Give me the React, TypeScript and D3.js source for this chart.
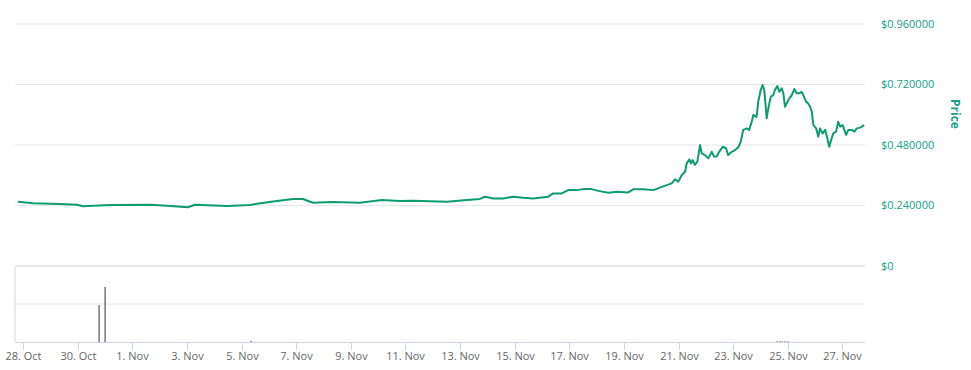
import React from "react";
import * as d3 from "d3";

const width = 971;
const height = 370;
const plot = { left: 15, right: 865 };
const priceBand = { top: 24, bottom: 266 };
const volBand = { top: 266, bottom: 342 };

// days after 28 Oct (UTC midnight) and the price at that moment
const priceDays = [
  -0.19, 0.36, 1.34, 1.97, 2.19, 3.18, 4.64, 5.26, 6.03, 6.29, 7.46, 8.3, 8.56, 9.29, 9.88,
  10.24, 10.61, 11.34, 12.33, 13.14, 13.8, 14.27, 15.52, 16.25,
  16.73, 16.91, 17.22, 17.58, 17.95, 18.32, 18.68, 19.23, 19.41, 19.72, 19.96, 20.27, 20.51,
  20.82, 21.06, 21.43, 21.74, 22.16, 22.34, 22.71, 23.08, 23.32,
  23.57, 23.75, 23.87, 23.99, 24.12, 24.24, 24.3, 24.4, 24.45, 24.52, 24.6, 24.69, 24.79,
  24.85, 24.97, 25.09, 25.22, 25.3, 25.4, 25.49, 25.62, 25.74, 25.82, 25.95, 26.07, 26.19,
  26.28,
  26.37, 26.5, 26.59, 26.68, 26.74, 26.86, 26.92, 27.01, 27.08, 27.14, 27.23, 27.29, 27.38,
  27.47, 27.53, 27.62, 27.69, 27.78, 27.84, 27.9, 27.96, 28.06, 28.15, 28.24, 28.33, 28.42,
  28.51, 28.57, 28.67, 28.75, 28.82, 28.88, 28.94, 29.04, 29.12, 29.18, 29.28, 29.37, 29.45,
  29.52, 29.59, 29.67, 29.77, 29.85, 29.92, 30.01, 30.14, 30.22, 30.35, 30.44, 30.53, 30.65,
  30.8,
];
const prices = [
  0.255, 0.249, 0.246, 0.243, 0.237, 0.242, 0.243, 0.239, 0.233, 0.243, 0.238, 0.242, 0.247,
  0.258, 0.266, 0.266, 0.251, 0.254, 0.251, 0.262, 0.258, 0.259, 0.255, 0.262,
  0.266, 0.275, 0.268, 0.268, 0.275, 0.271, 0.268, 0.275, 0.288, 0.288, 0.301, 0.301, 0.305,
  0.305, 0.298, 0.291, 0.295, 0.292, 0.304, 0.304, 0.301, 0.311,
  0.321, 0.328, 0.344, 0.334, 0.361, 0.374, 0.407, 0.423, 0.407, 0.42, 0.401, 0.414, 0.48,
  0.447, 0.44, 0.427, 0.453, 0.434, 0.434, 0.453, 0.473, 0.467, 0.44, 0.453, 0.46, 0.471,
  0.493,
  0.54, 0.546, 0.54, 0.572, 0.599, 0.592, 0.652, 0.698, 0.718, 0.698, 0.586, 0.626, 0.672,
  0.678, 0.698, 0.714, 0.691, 0.705, 0.685, 0.632, 0.645, 0.665, 0.678, 0.702, 0.685, 0.685,
  0.691, 0.678, 0.652, 0.645, 0.632, 0.612, 0.559, 0.546, 0.513, 0.546, 0.526, 0.54, 0.507,
  0.473, 0.5, 0.526, 0.533, 0.572, 0.553, 0.559, 0.52, 0.54, 0.54, 0.533, 0.546, 0.549,
  0.559,
];

const volumeDays = [2.78, 3.0, 8.34, 27.6, 27.7, 27.8, 27.9, 28.0];
const volumes = [0.97, 1.45, 0.03, 0.02, 0.02, 0.02, 0.02, 0.02];

const priceTicks = [0, 0.24, 0.48, 0.72, 0.96];
const volumeTicks = [0, 1, 2];

const start = Date.UTC(2021, 9, 28);
const toDate = (d: number) => new Date(start + d * 86400000);

const green = "#0e9b71";
const labelGreen = "#14a08a";

export default function App() {
  const x = d3
    .scaleUtc()
    .domain([toDate(-0.3), toDate(30.83)])
    .range([plot.left, plot.right]);
  const y = d3.scaleLinear().domain([0, 0.96]).range([priceBand.bottom, priceBand.top]);
  const yv = d3.scaleLinear().domain([0, 2]).range([volBand.bottom, volBand.top]);

  const line = d3
    .line<number>()
    .x((_, i) => x(toDate(priceDays[i])))
    .y((d) => y(d));

  const ticks = d3.range(0, 31, 2).map((d) => toDate(d));
  const fmt = d3.utcFormat("%-d. %b");

  const font = "'Open Sans', 'DejaVu Sans', sans-serif";

  return (
    <div style={{ position: "absolute", left: 0, top: 0 }}>
      <svg width={width} height={height} style={{ fontFamily: font, display: "block" }}>
        {/* price grid */}
        {priceTicks.map((t) => (
          <line
            key={"g" + t}
            x1={plot.left}
            x2={plot.right}
            y1={y(t)}
            y2={y(t)}
            stroke="#e6e6e6"
            strokeWidth={t === 0 ? 2 : 1}
          />
        ))}
        {priceTicks.map((t) => (
          <text
            key={"l" + t}
            x={881}
            y={y(t)}
            dy="0.35em"
            fontSize={11}
            fill={labelGreen}
          >
            {t === 0 ? "$0" : "$" + t.toFixed(6)}
          </text>
        ))}
        <text
          transform={`translate(951,${y(0.603)}) rotate(90)`}
          textAnchor="middle"
          fontSize={12}
          fontWeight="bold"
          fill={labelGreen}
        >
          Price
        </text>

        {/* volume grid */}
        {volumeTicks.slice(1, 2).map((t) => (
          <line
            key={"v" + t}
            x1={plot.left}
            x2={plot.right}
            y1={yv(t)}
            y2={yv(t)}
            stroke="#e6e6e6"
          />
        ))}
        <line x1={plot.left} x2={plot.left} y1={volBand.top + 1} y2={volBand.bottom} stroke="#ccd6eb" />

        {volumes.map((v, i) => (
          <rect
            key={"b" + i}
            x={Math.round(x(toDate(volumeDays[i]))) - 0.5}
            width={1.2}
            y={yv(v)}
            height={Math.max(1, yv(0) - yv(v))}
            fill="#555"
          />
        ))}

        {/* x axis */}
        <line x1={plot.left} x2={plot.right} y1={volBand.bottom + 0.5} y2={volBand.bottom + 0.5} stroke="#ccd6eb" />
        {ticks.map((t) => (
          <g key={t.getTime()} transform={`translate(${Math.round(x(t)) + 0.5},${volBand.bottom})`}>
            <line y1={0} y2={8} stroke="#ccd6eb" />
            <text y={18} textAnchor="middle" fontSize={11} fill="#666">
              {fmt(t)}
            </text>
          </g>
        ))}

        <path d={line(prices) || ""} fill="none" stroke={green} strokeWidth={2} strokeLinejoin="round" />
      </svg>
    </div>
  );
}
